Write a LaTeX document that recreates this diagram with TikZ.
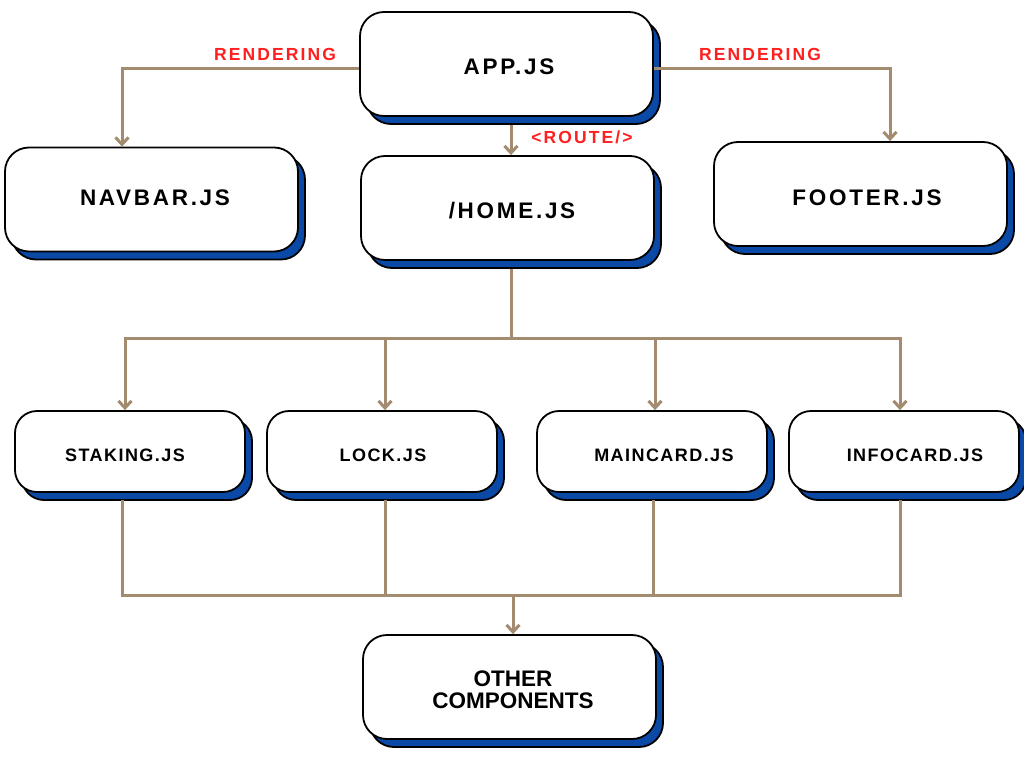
\documentclass[tikz,border=0pt]{standalone}
\usepackage{fontspec}
\setmainfont{Liberation Sans}
\newfontfamily\widefont{Liberation Sans}[LetterSpace=12]
\newfontfamily\smallfont{Liberation Sans}[LetterSpace=8]
\usetikzlibrary{calc, arrows.meta, shadows}

\definecolor{wirebrown}{HTML}{A28B6F}
\definecolor{shadowblue}{HTML}{0A4AA6}
\definecolor{tagred}{HTML}{FF1F1F}

\tikzset{
	card/.style={draw=black, line width=1.8pt, fill=white, rounded corners=24pt, inner sep=0pt,
		drop shadow={shadow xshift=7pt, shadow yshift=-8pt, fill=shadowblue, draw=black, line width=1.8pt, opacity=1}},
	bigcard/.style={card, minimum width=293pt, minimum height=104pt},
	smallcard/.style={card, rounded corners=22pt, minimum width=230pt, minimum height=81pt},
	bigtext/.style={inner sep=0pt, font={\widefont\bfseries\fontsize{22.5}{24}\selectfont}},
	smalltext/.style={inner sep=0pt, font={\smallfont\bfseries\fontsize{18}{20}\selectfont}},
	tag/.style={inner sep=0pt, text=tagred, font={\widefont\bfseries\fontsize{17.5}{20}\selectfont}},
	wire/.style={draw=wirebrown, line width=3pt},
	feed/.style={wire, -{Straight Barb[length=7pt,width=13pt]}}
}

\begin{document}
\begin{tikzpicture}[x=1pt, y=-1pt]
	\fill[white] (0,0) rectangle (1024,768);
	\useasboundingbox (0,0) rectangle (1024,768);
	
	%top row
	\node[bigcard] (app)    at (506.5,64)  {};
	\node[bigcard] (navbar) at (151.5,199.5) {};
	\node[bigcard] (home)   at (507.5,208) {};
	\node[bigcard] (footer) at (860.5,194) {};
	
	\node[bigtext] (appT)    at (509,67)  {APP.JS};
	\node[bigtext] (navbarT) at (155,198) {NAVBAR.JS};
	\node[bigtext] (homeT)   at (512,211) {/HOME.JS};
	\node[bigtext] (footerT) at (867,198) {FOOTER.JS};
	
	%middle row
	\node[smallcard] (staking)  at (130,451.5) {};
	\node[smallcard] (lock)     at (382,451.5) {};
	\node[smallcard] (maincard) at (652,451.5) {};
	\node[smallcard] (infocard) at (904,451.5) {};
	
	\node[smalltext] (stakingT)  at (125,455) {STAKING.JS};
	\node[smalltext] (lockT)     at (383,455) {LOCK.JS};
	\node[smalltext] (maincardT) at (664,455) {MAINCARD.JS};
	\node[smalltext] (infocardT) at (915,455) {INFOCARD.JS};
	
	%bottom
	\node[bigcard] (other) at (509.5,687) {};
	\node[inner sep=0pt, align=center, font={\bfseries\fontsize{22.5}{22}\selectfont}] (otherT) at (513,690) {OTHER\\COMPONENTS};
	
	%red tags
	\node[tag] (renderL) at (275,54)  {RENDERING};
	\node[tag] (renderR) at (760,54)  {RENDERING};
	\node[tag] (route)   at (582,137) {<ROUTE/>};
	
		%app -- navbar, footer, home
		\draw[feed] ([yshift=-4pt]app.west) -| ([xshift=-29.5pt]navbar.north);
		\draw[feed] ([yshift=-4pt]app.east) -| ([xshift=29.5pt]footer.north);
		\coordinate (routeTop) at ([xshift=4.5pt,yshift=-8pt]app.south);
		\draw[feed] (routeTop) -- (routeTop |- home.north);
		
		%home -- cards
		\coordinate (split) at (511,338);
		\draw[wire] (split |- home.south) ++(0,8) -- (split);
		\draw[feed] (split) -| ([xshift=-5pt]staking.north);
		\draw[feed] (split) -| ([xshift=3pt]lock.north);
		\draw[feed] (split) -| ([xshift=3pt]maincard.north);
		\draw[feed] (split) -| ([xshift=-4pt]infocard.north);
		
		%cards -- other components
		\coordinate (merge) at (513,595);
		\draw[wire] ([xshift=-8pt,yshift=-7pt]staking.south)  |- (merge);
		\draw[wire] ([xshift=3pt,yshift=-7pt]lock.south)      |- (merge);
		\draw[wire] ([xshift=1pt,yshift=-7pt]maincard.south)  |- (merge);
		\draw[wire] ([xshift=-4pt,yshift=-7pt]infocard.south) |- (merge);
		\draw[feed] (merge) -- (merge |- other.north);
\end{tikzpicture}
\end{document}
